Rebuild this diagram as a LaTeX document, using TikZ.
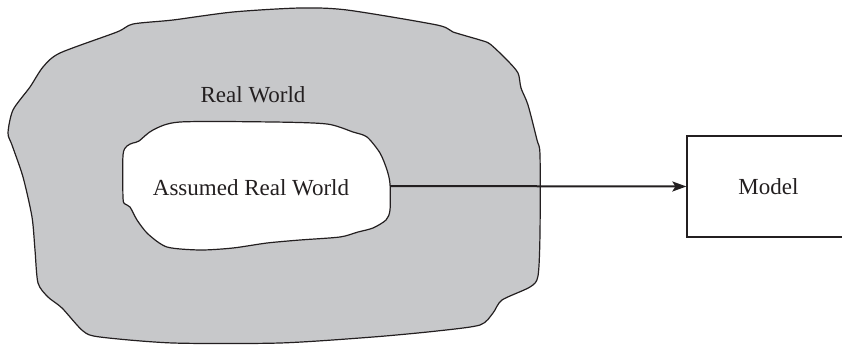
\documentclass[tikz,border=0pt]{standalone}
\usepackage{fontspec}
\setmainfont{Liberation Serif}
\usetikzlibrary{arrows.meta}
\definecolor{blobgray}{HTML}{C7C8CA}
\definecolor{ink}{HTML}{231F20}
\tikzset{
  lbl/.style={font=\fontsize{23}{27}\selectfont, text=ink, inner sep=0pt},
  outline/.style={draw=ink, line width=1.2pt},
  modelbox/.style={draw=ink, line width=1.3pt, minimum width=163pt, minimum height=101pt, inner sep=0pt, lbl},
  conn/.style={draw=ink, line width=2pt, -{Stealth[length=14pt,width=10pt,inset=3pt]}}
}
\begin{document}
\begin{tikzpicture}[x=1pt,y=-1pt]
\clip (0,0) rectangle (842,345);
\fill[white] (0,0) rectangle (842,345);
% outer blob (Real World)
\draw[outline, fill=blobgray] plot[smooth cycle, tension=0.45] coordinates {
 (300,8) (347,10) (437,25) (453,32) (480,40) (490,44) (507,60) (518,73) (521,88) (528,105)
 (537,140) (540,155) (540,233) (538,276) (530,287) (502,300) (493,313) (480,325)
 (437,331) (373,337) (280,343) (173,343) (100,337) (83,331) (62,308) (48,297)
 (38,283) (35,250) (32,217) (23,177) (12,145) (8,133) (13,110) (30,87) (43,67)
 (60,53) (117,32) (133,24) (173,20) (233,12)};
% inner blob (Assumed Real World)
\draw[outline, fill=white] plot[smooth cycle, tension=0.45] coordinates {
 (180,122) (273,122) (327,124) (353,132) (367,137) (380,153) (387,170) (390,184)
 (390,210) (386,220) (373,228) (358,232) (340,237) (300,240) (267,243) (233,248)
 (200,250) (167,247) (148,234) (137,220) (130,207) (125,204) (123,198) (123,155)
 (127,146) (133,143) (139,141) (153,130)};
\node[lbl, anchor=base] (real) at (253,102) {Real World};
\node[lbl, anchor=base] (assumed) at (251,195) {Assumed Real World};
\coordinate (aw) at (390,186);
\node[modelbox] (model) at (768.5,186.5) {Model};
\draw[conn] (aw) -- (model.west);
\end{tikzpicture}
\end{document}
